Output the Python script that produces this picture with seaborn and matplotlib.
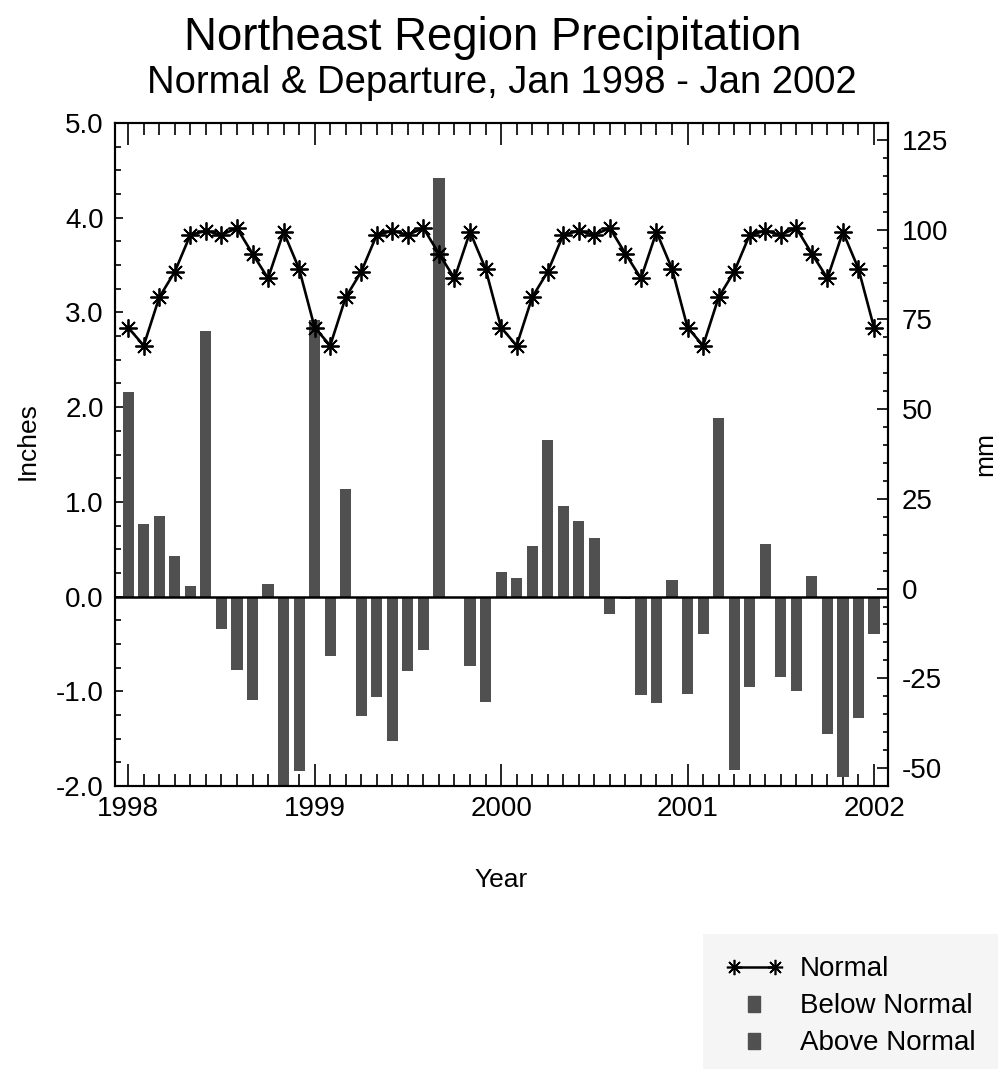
import numpy as np
import pandas as pd
import matplotlib
matplotlib.use("Agg")
import matplotlib.pyplot as plt
from matplotlib.lines import Line2D
from matplotlib.ticker import MultipleLocator, FixedLocator, FormatStrFormatter
import seaborn as sns

# ---------------- data ----------------
months = list(range(49))  # Jan 1998 .. Jan 2002
year_ticks = [0, 12, 24, 36, 48]
year_labels = ["1998", "1999", "2000", "2001", "2002"]

normal_in = [
    2.84, 2.65, 3.16, 3.43, 3.82, 3.86, 3.82, 3.89, 3.62, 3.36, 3.85, 3.46,
    2.84, 2.65, 3.16, 3.43, 3.82, 3.86, 3.82, 3.89, 3.62, 3.36, 3.85, 3.46,
    2.84, 2.65, 3.16, 3.43, 3.82, 3.86, 3.82, 3.89, 3.62, 3.36, 3.85, 3.46,
    2.84, 2.65, 3.16, 3.43, 3.82, 3.86, 3.82, 3.89, 3.62, 3.36, 3.85, 3.46,
    2.84,
]

departure_in = [
    2.16, 0.77, 0.85, 0.43, 0.11, 2.80, -0.34, -0.77, -1.09, 0.13, -2.08, -1.84,
    2.92, -0.63, 1.14, -1.26, -1.06, -1.52, -0.79, -0.56, 4.42, -0.02, -0.73, -1.11,
    0.26, 0.20, 0.53, 1.65, 0.96, 0.80, 0.62, -0.18, -0.03, -1.04, -1.12, 0.18,
    -1.03, -0.39, 1.89, -1.83, -0.96, 0.56, -0.85, -1.00, 0.22, -1.45, -1.90, -1.28,
    -0.40,
]

df = pd.DataFrame({"month": months, "normal": normal_in, "departure": departure_in})
df["kind"] = np.where(df["departure"] < 0, "Below Normal", "Above Normal")

bar_color = "#505050"
font = "Liberation Sans"

# ---------------- figure ----------------
sns.set_style("ticks")
plt.rcParams["font.family"] = [font, "DejaVu Sans"]
plt.rcParams["axes.unicode_minus"] = False
plt.rcParams["text.color"] = "black"
plt.rcParams["axes.labelcolor"] = "black"
plt.rcParams["xtick.color"] = "black"
plt.rcParams["ytick.color"] = "black"
plt.rcParams["axes.edgecolor"] = "black"

W, H = 1003, 1069
fig = plt.figure(figsize=(W / 100, H / 100), dpi=100)
ax = fig.add_axes([115 / W, 1 - 786 / H, (888 - 115) / W, (786 - 123) / H])

sns.barplot(data=df, x="month", y="departure", hue="kind",
            palette={"Below Normal": bar_color, "Above Normal": bar_color},
            native_scale=True, dodge=False, width=0.72, saturation=1,
            errorbar=None, legend=False, ax=ax, linewidth=0)

ax.axhline(0, color="black", linewidth=1.8, zorder=3)

sns.lineplot(data=df, x="month", y="normal", ax=ax, color="black",
             linewidth=1.9, marker=(8, 2, 0), markersize=13,
             markeredgewidth=1.3, markeredgecolor="black", zorder=4)

ax.set_xlim(-0.85, 48.9)
ax.set_ylim(-2.0, 5.0)

ax.xaxis.set_major_locator(FixedLocator(year_ticks))
ax.set_xticklabels(year_labels)
ax.xaxis.set_minor_locator(MultipleLocator(1))
ax.yaxis.set_major_locator(MultipleLocator(1.0))
ax.yaxis.set_minor_locator(MultipleLocator(0.25))
ax.yaxis.set_major_formatter(FormatStrFormatter("%.1f"))

tick_fs = 20
ax.tick_params(axis="x", which="major", direction="in", length=16, width=1.2,
               top=True, bottom=True, labelsize=tick_fs, pad=7)
ax.tick_params(axis="x", which="minor", direction="in", length=8.5, width=1.2,
               top=True, bottom=True)
ax.tick_params(axis="y", which="major", direction="in", length=6, width=1.2,
               left=True, right=False, labelsize=tick_fs, pad=8)
ax.tick_params(axis="y", which="minor", direction="in", length=4.5, width=1.2,
               left=True, right=False)

ax.set_xlabel("Year", fontsize=19, labelpad=33)
ax.set_ylabel("Inches", fontsize=19, labelpad=10)
ax.yaxis.set_label_coords(-0.098, 0.52)

for sp in ax.spines.values():
    sp.set_linewidth(1.5)
    sp.set_color("black")

# right axis in mm
ax2 = ax.twinx()
ax2.set_ylim(-55.0, 129.7)
ax2.yaxis.set_major_locator(MultipleLocator(25))
ax2.yaxis.set_minor_locator(MultipleLocator(5))
ax2.tick_params(axis="y", which="major", direction="in", length=8, width=1.2,
                labelsize=tick_fs, pad=10)
ax2.tick_params(axis="y", which="minor", direction="in", length=3.8, width=1.2)
ax2.set_ylabel("mm", fontsize=19, labelpad=18, rotation=90)
for sp in ax2.spines.values():
    sp.set_linewidth(1.5)
    sp.set_color("black")

# titles
fig.text(493 / W, 1 - 38 / H, "Northeast Region Precipitation",
         ha="center", va="center", fontsize=32.8)
fig.text(502 / W, 1 - 83 / H, "Normal & Departure, Jan 1998 - Jan 2002",
         ha="center", va="center", fontsize=27.5)

# legend
rect_marker = [(-0.33, -0.5), (0.33, -0.5), (0.33, 0.5), (-0.33, 0.5), (-0.33, -0.5)]
handles = [
    Line2D([], [], color="black", linewidth=1.8, marker=(8, 2, 0),
           markersize=11, markeredgewidth=1.2),
    Line2D([], [], linestyle="none", marker=rect_marker, markersize=12,
           color=bar_color),
    Line2D([], [], linestyle="none", marker=rect_marker, markersize=12,
           color=bar_color),
]
labels = ["Normal", "Below Normal", "Above Normal"]
leg = fig.legend(handles, labels, loc="upper left", numpoints=2,
                 bbox_to_anchor=(703 / W, 1 - 934 / H),
                 frameon=True, facecolor="#f3f3f3", edgecolor="none",
                 fancybox=False, fontsize=20, handlelength=2.1,
                 handletextpad=0.6, labelspacing=0.4, borderaxespad=0,
                 borderpad=0.8)
# squares drawn once, centred in the handle
for h in leg.legend_handles[1:]:
    h.set_markevery([0])
    xd = h.get_xdata()
    mid = (xd[0] + xd[-1]) / 2
    h.set_xdata([mid] * len(xd))

fig.savefig("out.png", dpi=100, facecolor="white")
